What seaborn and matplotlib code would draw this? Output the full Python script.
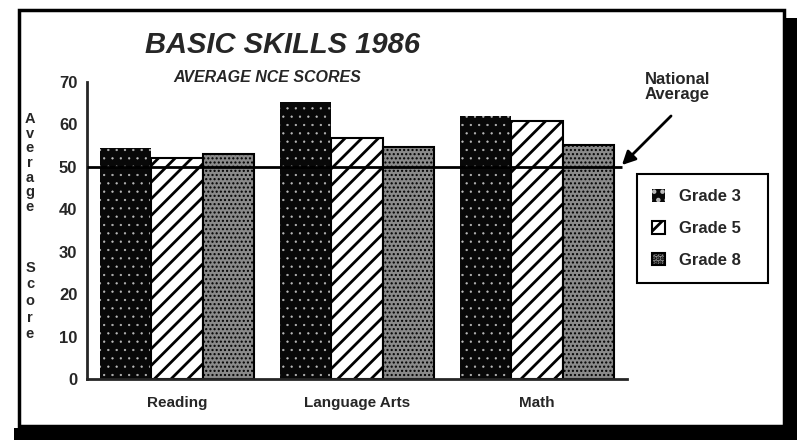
import numpy as np
import pandas as pd
import matplotlib
matplotlib.use('Agg')
import matplotlib.pyplot as plt
from matplotlib.patches import Rectangle
import seaborn as sns

### data ###
subjects = ['Reading', 'Language Arts', 'Math']
grades = ['Grade 3', 'Grade 5', 'Grade 8']
grade3 = [54.5, 65.3, 62.0]
grade5 = [52.1, 56.8, 60.8]
grade8 = [53.0, 54.6, 55.2]
national_avg = 50
yticks = [0, 10, 20, 30, 40, 50, 60, 70]

df = pd.DataFrame({
    'subject': subjects * 3,
    'grade': np.repeat(grades, 3),
    'score': grade3 + grade5 + grade8,
})

### style ###
sns.set_style('white')
plt.rcParams['font.family'] = ['Liberation Sans', 'DejaVu Sans']
plt.rcParams['hatch.linewidth'] = 2.0

W, H = 797, 440
fig = plt.figure(figsize=(W / 100, H / 100), dpi=100)
ax = fig.add_axes([87 / W, 1 - 379 / H, 540 / W, 297 / H])

sns.barplot(data=df, x='subject', y='score', hue='grade', order=subjects,
            hue_order=grades, width=0.86, ax=ax, legend=False, saturation=1,
            palette=['black', 'white', '#8c8c8c'], errorbar=None)

# fill patterns per grade
for cont, g in zip(ax.containers, grades):
    for bar in cont:
        if g == 'Grade 3':
            bar.set_facecolor('#080808')
            bar.set_edgecolor('#bdbdbd')   # hatch colour -> light dots
            bar.set_linewidth(0)
            bar.set_hatch('..')
            if hasattr(bar, 'set_hatch_linewidth'):
                bar.set_hatch_linewidth(0.4)
        elif g == 'Grade 5':
            bar.set_facecolor('white')
            bar.set_edgecolor('black')
            bar.set_linewidth(1.5)
            bar.set_hatch('//')
        else:
            bar.set_facecolor('#8a8a8a')
            bar.set_edgecolor('black')
            bar.set_linewidth(1.5)
            bar.set_hatch('....')
            if hasattr(bar, 'set_hatch_linewidth'):
                bar.set_hatch_linewidth(1.0)

# national average line
ax.hlines(national_avg, -0.5, 2.47, color='black', lw=2, zorder=5)

ax.set_xlim(-0.5, 2.5)
ax.set_ylim(0, 70)
ax.set_yticks(yticks)
ax.set_xlabel('')
ax.set_ylabel('')
sns.despine(ax=ax)
for s in ['left', 'bottom']:
    ax.spines[s].set_linewidth(2)
ax.tick_params(axis='y', direction='inout', length=8, width=1.5, labelsize=12, pad=3)
ax.tick_params(axis='x', which='major', length=0, labelsize=11, pad=12)
ax.set_xticks([0.5, 1.5, 2.5], minor=True)
ax.tick_params(axis='x', which='minor', direction='inout', length=8, width=1.5)
for lbl in ax.get_xticklabels() + ax.get_yticklabels():
    lbl.set_fontweight('bold')

# stacked y label
fig.text(30 / W, 1 - 163 / H, '\n'.join('Average'), ha='center', va='center',
         fontsize=10.5, fontweight='bold', linespacing=1.05)
fig.text(30 / W, 1 - 301 / H, '\n'.join('Score'), ha='center', va='center',
         fontsize=10.5, fontweight='bold', linespacing=1.25)

# titles
fig.text(283 / W, 1 - 45 / H, 'BASIC SKILLS 1986', ha='center', va='center',
         fontsize=21, fontweight='bold', fontstyle='italic')
fig.text(267 / W, 1 - 77 / H, 'AVERAGE NCE SCORES', ha='center', va='center',
         fontsize=11.5, fontweight='bold', fontstyle='italic')

# national average note
fig.text(645 / W, 1 - 87 / H, 'National\nAverage', ha='left', va='center',
         fontsize=12, fontweight='bold', linespacing=1.05)
ax.annotate('', xy=(620 / W, 1 - 167 / H), xycoords='figure fraction',
            xytext=(673 / W, 1 - 114 / H), textcoords='figure fraction',
            arrowprops=dict(arrowstyle='-|>', lw=2, color='black', mutation_scale=20),
            annotation_clip=False)

# legend
handles = [cont[0] for cont in ax.containers]
leg = fig.legend(handles, grades, loc='upper left',
                 bbox_to_anchor=(637 / W, 1 - 291 / H, 131 / W, 117 / H),
                 mode='expand', frameon=True, fancybox=False, edgecolor='black',
                 framealpha=1, prop={'size': 12, 'weight': 'bold'},
                 handlelength=0.8, handleheight=0.8, handletextpad=0.8,
                 labelspacing=1.0, borderpad=0.9, borderaxespad=0)
leg.get_frame().set_linewidth(1.5)

# page frame with drop shadow
fig.patches.append(Rectangle((19 / W, 1 - 426 / H), (784 - 19) / W, (426 - 10) / H,
                             transform=fig.transFigure, fill=False, lw=2.5, ec='black'))
fig.patches.append(Rectangle((786 / W, 0), 11 / W, 1 - 18 / H,
                             transform=fig.transFigure, fc='black', ec='none'))
fig.patches.append(Rectangle((14 / W, 0), (W - 14) / W, 12 / H,
                             transform=fig.transFigure, fc='black', ec='none'))

fig.savefig('out.png', dpi=100)
